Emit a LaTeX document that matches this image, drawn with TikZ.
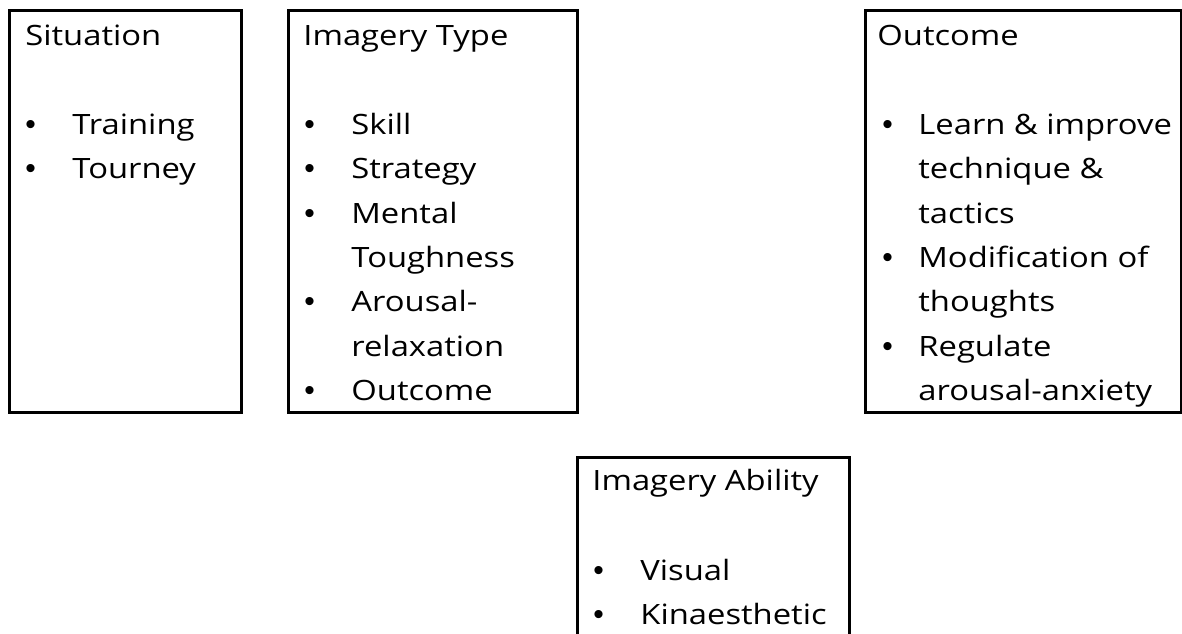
\documentclass[tikz,border=0pt]{standalone}
\usepackage{fontspec}
\setmainfont[FakeStretch=1.17]{Open Sans}
\newfontfamily\bulletfont{Liberation Sans}
\begin{document}
\begin{tikzpicture}[x=0.5pt,y=-0.5pt,
  box/.style={draw=black, line width=1.5pt, anchor=north west, inner sep=0pt},
  txt/.style={anchor=base west, inner sep=0pt, font=\fontsize{14pt}{16pt}\selectfont},
  bul/.style={anchor=base west, inner sep=0pt, font=\bulletfont\fontsize{15pt}{16pt}\selectfont}]
\useasboundingbox (0,0) rectangle (1182,633);
% boxes
\node[box, minimum width=116pt, minimum height=201pt] (sit) at (8,9) {};
\node[box, minimum width=144.5pt, minimum height=201pt] (typ) at (287,9) {};
\node[box, minimum width=158pt, minimum height=201pt] (out) at (864,9) {};
\node[box, minimum width=136pt, minimum height=110pt] (abl) at (576,456) {};
% Situation
\node[txt] (sitT) at (25,45) {Situation};
\node[bul] (sitB1) at (25,134) {•};
\node[txt] (sitT1) at (72,134) {Training};
\node[bul] (sitB2) at (25,178) {•};
\node[txt] (sitT2) at (72,178) {Tourney};
% Imagery Type
\node[txt] (typT) at (303,45) {Imagery Type};
\node[bul] (typB1) at (304,134) {•};
\node[txt] (typT1) at (351,134) {Skill};
\node[bul] (typB2) at (304,178) {•};
\node[txt] (typT2) at (351,178) {Strategy};
\node[bul] (typB3) at (304,223) {•};
\node[txt] (typT3) at (351,223) {Mental};
\node[txt] (typT3b) at (351,267) {Toughness};
\node[bul] (typB4) at (304,311) {•};
\node[txt] (typT4) at (351,311) {Arousal-};
\node[txt] (typT4b) at (351,356) {relaxation};
\node[bul] (typB5) at (304,400) {•};
\node[txt] (typT5) at (351,400) {Outcome};
% Outcome
\node[txt] (outT) at (877,45) {Outcome};
\node[bul] (outB1) at (882,134) {•};
\node[txt] (outT1) at (918,134) {Learn \& improve};
\node[txt] (outT1b) at (918,178) {technique \&};
\node[txt] (outT1c) at (918,223) {tactics};
\node[bul] (outB2) at (882,267) {•};
\node[txt] (outT2) at (918,267) {Modification of};
\node[txt] (outT2b) at (918,311) {thoughts};
\node[bul] (outB3) at (882,356) {•};
\node[txt] (outT3) at (918,356) {Regulate};
\node[txt] (outT3b) at (918,400) {arousal-anxiety};
% Imagery Ability
\node[txt] (ablT) at (592,490) {Imagery Ability};
\node[bul] (ablB1) at (593,580) {•};
\node[txt] (ablT1) at (640,580) {Visual};
\node[bul] (ablB2) at (593,624) {•};
\node[txt] (ablT2) at (640,624) {Kinaesthetic};
\end{tikzpicture}
\end{document}
